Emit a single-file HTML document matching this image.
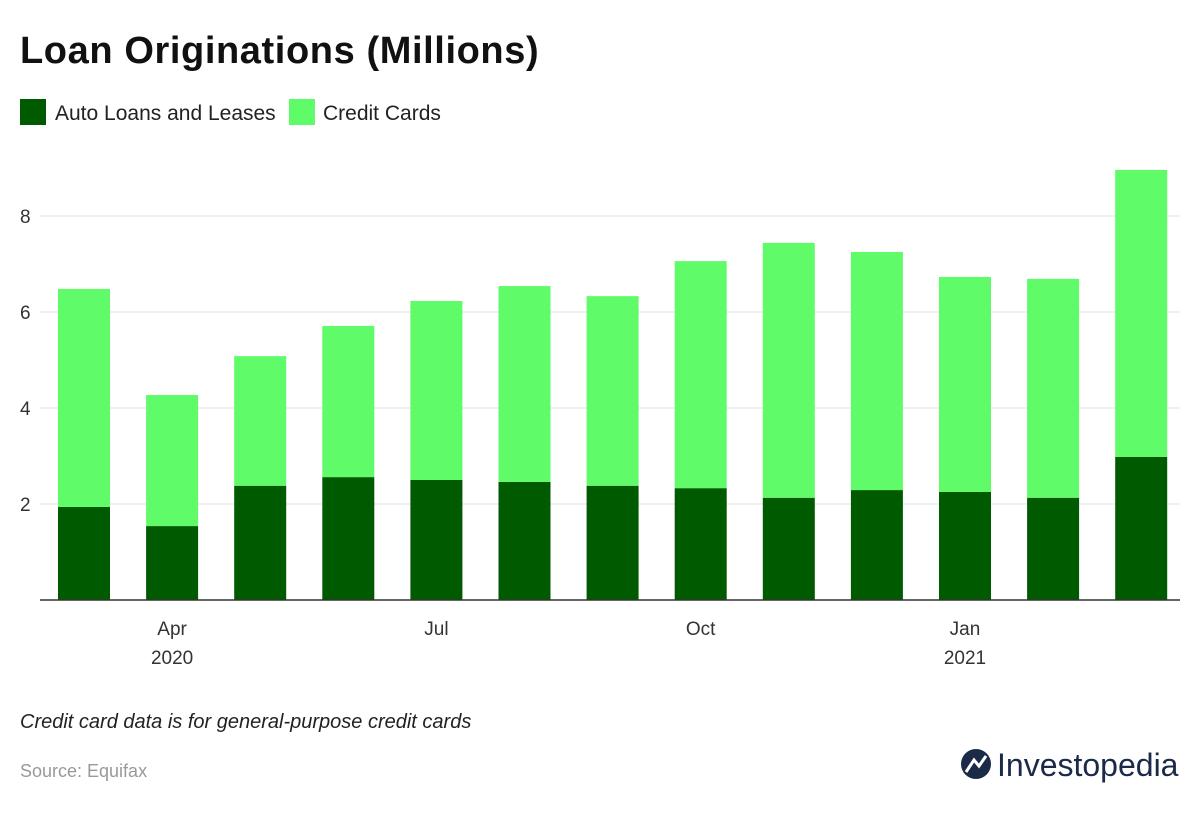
<!DOCTYPE html>
<html><head><meta charset="utf-8"><style>
body{margin:0;background:#fff;width:1200px;height:813px;overflow:hidden;font-family:"Liberation Sans",sans-serif}
</style></head><body>
<svg width="1200" height="813">
<text x="20" y="63" font-size="38" font-weight="bold" fill="#111" letter-spacing="0.6">Loan Originations (Millions)</text>
<g>
<rect x="20" y="99" width="26" height="26" fill="#005a00"/>
<text x="55" y="120" font-size="21" fill="#222">Auto Loans and Leases</text>
<rect x="289" y="99" width="26" height="26" fill="#5ffb69"/>
<text x="323" y="120" font-size="21" fill="#222">Credit Cards</text>
</g>
<g id="plot"></g>
<text x="20" y="728" font-size="20" font-style="italic" fill="#222">Credit card data is for general-purpose credit cards</text>
<text x="20" y="777" font-size="18" fill="#999">Source: Equifax</text>
<g>
<circle cx="976" cy="764" r="15" fill="#1c2a4a"/>
<path d="M966 772 L974 760 L979 766 L986 756" stroke="#fff" stroke-width="3" fill="none"/>
<text x="997" y="776" font-size="32" fill="#1c2a4a">Investopedia</text>
</g>
</svg>
<script>
const categories=["Mar 2020","Apr 2020","May 2020","Jun 2020","Jul 2020","Aug 2020","Sep 2020","Oct 2020","Nov 2020","Dec 2020","Jan 2021","Feb 2021","Mar 2021"];
const autoLoans=[1.94,1.54,2.38,2.56,2.5,2.46,2.38,2.33,2.13,2.29,2.25,2.13,2.98];
const creditCards=[4.54,2.73,2.70,3.15,3.73,4.08,3.95,4.73,5.31,4.96,4.48,4.56,5.98];
const yTicks=[2,4,6,8];
const xTickIdx=[1,4,7,10];
const xTickLabels=["Apr","Jul","Oct","Jan"];
const xYearLabels=["2020","","","2021"];
const NS="http://www.w3.org/2000/svg";
const g=document.getElementById('plot');
const y=v=>600-v*48;
const x=i=>84+i*88.1;
const bw=52;
function mk(t,a){const e=document.createElementNS(NS,t);for(const k in a)e.setAttribute(k,a[k]);g.appendChild(e);return e;}
yTicks.forEach(t=>{
 const l=mk('line',{x1:40,x2:1180,y1:y(t),y2:y(t),stroke:'#e2e2e2','stroke-width':1});
 
 
 const tx=mk('text',{x:20,y:y(t)+7,'font-size':19,fill:'#333'});tx.textContent=t;
 
 
});
categories.forEach((c,i)=>{
 const a=mk('rect',{x:x(i)-bw/2,y:y(autoLoans[i]),width:bw,height:autoLoans[i]*48,fill:'#005a00'});
 
 
 const tot=autoLoans[i]+creditCards[i];
 const b=mk('rect',{x:x(i)-bw/2,y:y(tot),width:bw,height:creditCards[i]*48,fill:'#5ffb69'});
 
 
});
const ax=mk('line',{x1:40,x2:1180,y1:600,y2:600,stroke:'#333','stroke-width':1.5});


xTickIdx.forEach((idx,k)=>{
 const t=mk('text',{x:x(idx),y:635,'font-size':19,fill:'#333','text-anchor':'middle'});t.textContent=xTickLabels[k];
 
 
 if(xYearLabels[k]){const yy=mk('text',{x:x(idx),y:664,'font-size':19,fill:'#333','text-anchor':'middle'});yy.textContent=xYearLabels[k];
 
 }
});
</script>
</body></html>
